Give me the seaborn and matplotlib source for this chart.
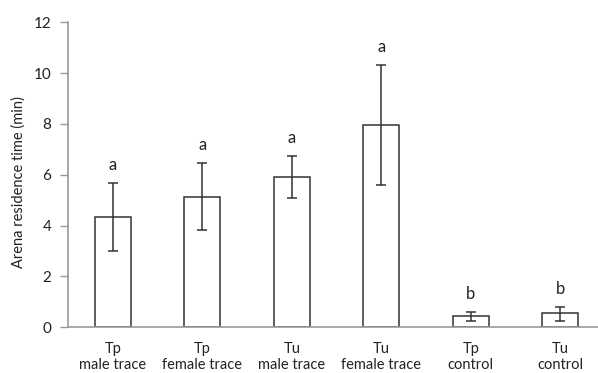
import numpy as np
import seaborn as sns
import matplotlib.pyplot as plt
import pandas as pd

sns.set_theme(style="white")
plt.rcParams['font.family'] = ['Lato', 'DejaVu Sans']

groups = ['Tp\nmale trace', 'Tp\nfemale trace', 'Tu\nmale trace', 'Tu\nfemale trace', 'Tp\ncontrol', 'Tu\ncontrol']
means = [4.34, 5.13, 5.91, 7.97, 0.43, 0.55]
err_low = [2.99, 3.82, 5.10, 5.61, 0.24, 0.22]
err_high = [5.68, 6.45, 6.73, 10.32, 0.58, 0.80]
letters = ['a', 'a', 'a', 'a', 'b', 'b']

df = pd.DataFrame({'group': groups, 'time': means})

fig = plt.figure(figsize=(5.98, 3.73), dpi=100)
ax = fig.add_axes([0.1137, 0.1233, 0.8863, 0.8164])

sns.barplot(data=df, x='group', y='time', ax=ax, color='white', edgecolor='#333333',
            linewidth=1.1, width=0.40, errorbar=None)

x = np.arange(len(groups))
lo = np.array(means) - np.array(err_low)
hi = np.array(err_high) - np.array(means)
ax.errorbar(x, means, yerr=[lo, hi], fmt='none', ecolor='#333333', elinewidth=1.1,
            capsize=3.5, capthick=1.1)

for xi, top, lab in zip(x, err_high, letters):
    ax.text(xi, top + 0.4, lab, ha='center', va='bottom', fontsize=12, color='#222222')

ax.set_ylim(0, 12)
ax.set_xlim(-0.5, 5.42)
ax.set_yticks(range(0, 13, 2))
ax.set_ylabel('Arena residence time (min)', fontsize=10.5, color='#222222')
ax.yaxis.set_label_coords(-0.08, 0.475)
ax.set_xlabel('')

ax.set_xticks(x)
ax.set_xticklabels(groups, fontsize=10.5, color='#222222', linespacing=1.2)
ax.set_xticks(np.arange(-0.5, 5.5, 1), minor=True)
ax.tick_params(axis='x', which='major', length=0, pad=11)
ax.tick_params(axis='x', which='minor', length=5, width=1, color='#999999', direction='out')
ax.tick_params(axis='y', length=6, width=1, color='#999999', direction='out', labelsize=11,
               labelcolor='#222222', left=True, pad=6)

sns.despine(ax=ax)
for s in ['left', 'bottom']:
    ax.spines[s].set_color('#999999')
    ax.spines[s].set_linewidth(1.2)

fig.savefig('out.png', dpi=100)
